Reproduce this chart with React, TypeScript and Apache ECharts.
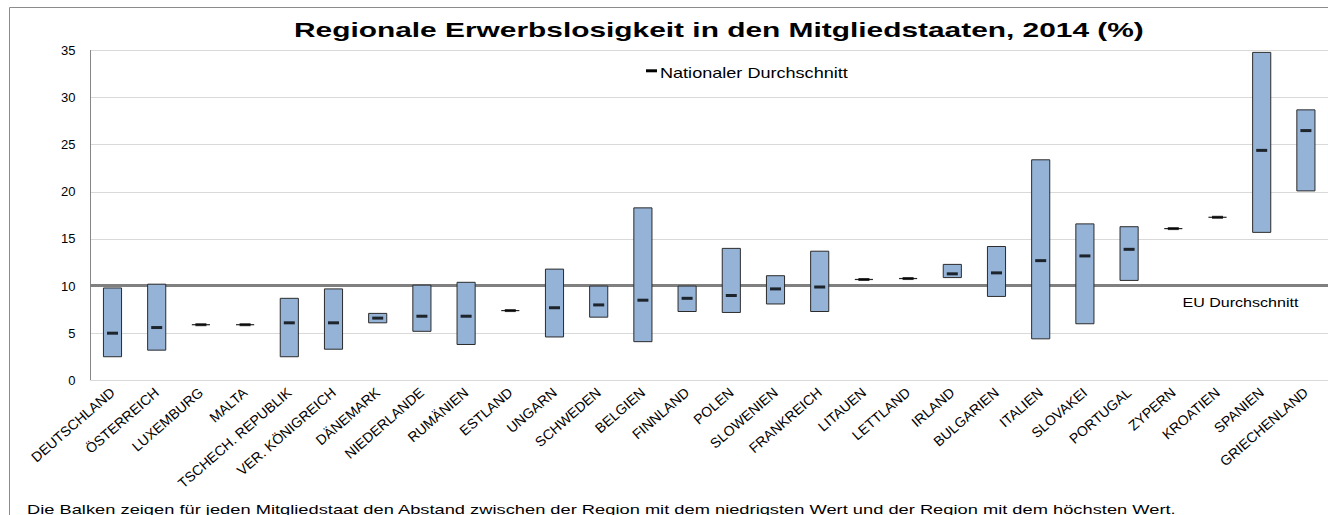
import React, { useEffect, useRef } from "react";
import * as echarts from "echarts";

const categories = [
  "DEUTSCHLAND", "ÖSTERREICH", "LUXEMBURG", "MALTA", "TSCHECH. REPUBLIK", "VER. KÖNIGREICH",
  "DÄNEMARK", "NIEDERLANDE", "RUMÄNIEN", "ESTLAND", "UNGARN", "SCHWEDEN", "BELGIEN", "FINNLAND",
  "POLEN", "SLOWENIEN", "FRANKREICH", "LITAUEN", "LETTLAND", "IRLAND", "BULGARIEN", "ITALIEN",
  "SLOVAKEI", "PORTUGAL", "ZYPERN", "KROATIEN", "SPANIEN", "GRIECHENLAND",
];

const regionMin = [
  2.5, 3.2, 5.9, 5.9, 2.5, 3.3, 6.1, 5.2, 3.8, 7.4, 4.6, 6.7, 4.1, 7.3,
  7.2, 8.1, 7.3, 10.7, 10.8, 10.9, 8.9, 4.4, 6.0, 10.6, 16.1, 17.3, 15.7, 20.1,
];

const regionMax = [
  9.8, 10.2, 5.9, 5.9, 8.7, 9.7, 7.1, 10.1, 10.4, 7.4, 11.8, 10.0, 18.3, 10.0,
  14.0, 11.1, 13.7, 10.7, 10.8, 12.3, 14.2, 23.4, 16.6, 16.3, 16.1, 17.3, 34.8, 28.7,
];

const nationalAvg = [
  5.0, 5.6, 5.9, 5.9, 6.1, 6.1, 6.6, 6.8, 6.8, 7.4, 7.7, 8.0, 8.5, 8.7,
  9.0, 9.7, 9.9, 10.7, 10.8, 11.3, 11.4, 12.7, 13.2, 13.9, 16.1, 17.3, 24.4, 26.5,
];

const euAverage = 10.1;

const yTicks = { min: 0, max: 35, interval: 5 };

const titleText = "Regionale Erwerbslosigkeit in den Mitgliedstaaten, 2014 (%)";
const legendText = "Nationaler Durchschnitt";
const euLabelText = "EU Durchschnitt";
const footnoteText =
  "Die Balken zeigen für jeden Mitgliedstaat den Abstand zwischen der Region mit dem niedrigsten Wert und der Region mit dem höchsten Wert.";

const FONT = '"Liberation Sans", Arial, Helvetica, sans-serif';

function measure(text: string, font: string): number {
  const c = document.createElement("canvas").getContext("2d");
  if (!c) return 1;
  c.font = font;
  return c.measureText(text).width || 1;
}

export default function App() {
  const ref = useRef<HTMLDivElement | null>(null);

  useEffect(() => {
    if (!ref.current) return;
    const chart = echarts.init(ref.current, null, { renderer: "svg" });

    const fit = (text: string, size: number, weight: string, target: number) =>
      target / measure(text, `${weight} ${size}px ${FONT}`);

    const rangeData = categories.map((_, i) => [i, regionMin[i], regionMax[i]]);

    const option: any = {
      animation: false,
      backgroundColor: "#ffffff",
      grid: { left: 90.4, right: -11, top: 50.5, bottom: 134.7, containLabel: false },
      xAxis: {
        type: "category",
        data: categories,
        boundaryGap: true,
        axisLine: { show: true, lineStyle: { color: "#d9d9d9", width: 1 } },
        axisTick: { show: false },
        axisLabel: {
          interval: 0,
          rotate: 41,
          margin: 10,
          fontSize: 14,
          fontFamily: FONT,
          color: "#000000",
        },
        splitLine: { show: false },
      },
      yAxis: {
        type: "value",
        min: yTicks.min,
        max: yTicks.max,
        interval: yTicks.interval,
        axisLine: { show: true, lineStyle: { color: "#868686", width: 1 } },
        axisTick: { show: false },
        axisLabel: { fontSize: 13, fontFamily: FONT, color: "#000000", margin: 15 },
        splitLine: { show: true, lineStyle: { color: "#d9d9d9", width: 1 } },
      },
      series: [
        {
          type: "line",
          name: "EU Durchschnitt",
          data: [],
          z: 1,
          silent: true,
          markLine: {
            silent: true,
            z: 1,
            symbol: ["none", "none"],
            label: { show: false },
            lineStyle: { color: "#808080", width: 3, type: "solid" },
            data: [{ yAxis: euAverage }],
          },
        },
        {
          type: "custom",
          name: "Spanne",
          z: 8,
          data: rangeData,
          encode: { x: 0, y: [1, 2] },
          renderItem: (params: any, api: any) => {
            const i = api.value(0);
            const lo = api.value(1);
            const hi = api.value(2);
            const pLo = api.coord([i, lo]);
            const pHi = api.coord([i, hi]);
            const w = api.size([1, 0])[0] * 0.41;
            const h = pLo[1] - pHi[1];
            if (h < 1) {
              return {
                type: "line",
                shape: { x1: pLo[0] - w / 2, y1: pLo[1], x2: pLo[0] + w / 2, y2: pLo[1] },
                style: { stroke: "#262626", lineWidth: 1.2 },
              };
            }
            return {
              type: "rect",
              shape: { x: pLo[0] - w / 2, y: pHi[1], width: w, height: h },
              style: { fill: "#95b3d7", stroke: "#2b2b2b", lineWidth: 1 },
            };
          },
        },
        {
          type: "scatter",
          name: legendText,
          z: 9,
          data: nationalAvg.map((v, i) => [i, v]),
          symbol: "rect",
          symbolSize: [11, 3],
          itemStyle: { color: "#000000" },
        },
      ],
      graphic: [
        {
          type: "rect",
          silent: true,
          z: -10,
          shape: { x: 9.5, y: 7.5, width: 1400, height: 600 },
          style: { fill: "none", stroke: "#8c8c8c", lineWidth: 1 },
        },
        {
          type: "text",
          x: 294,
          y: 30,
          scaleX: fit(titleText, 21, "bold", 850),
          style: {
            text: titleText,
            font: `bold 21px ${FONT}`,
            fill: "#000000",
            textAlign: "left",
            textVerticalAlign: "middle",
          },
        },
        {
          type: "rect",
          shape: { x: 646, y: 69.3, width: 11, height: 3 },
          style: { fill: "#000000" },
        },
        {
          type: "text",
          x: 660,
          y: 72.5,
          scaleX: fit(legendText, 14, "normal", 188),
          style: {
            text: legendText,
            font: `normal 14px ${FONT}`,
            fill: "#000000",
            textAlign: "left",
            textVerticalAlign: "middle",
          },
        },
        {
          type: "text",
          x: 1182.5,
          y: 302.5,
          scaleX: fit(euLabelText, 12, "normal", 116),
          style: {
            text: euLabelText,
            font: `normal 12px ${FONT}`,
            fill: "#000000",
            textAlign: "left",
            textVerticalAlign: "middle",
          },
        },
        {
          type: "text",
          x: 27,
          y: 509.5,
          scaleX: fit(footnoteText, 13, "normal", 1150),
          style: {
            text: footnoteText,
            font: `normal 13px ${FONT}`,
            fill: "#000000",
            textAlign: "left",
            textVerticalAlign: "middle",
          },
        },
      ],
    };

    chart.setOption(option);
    return () => chart.dispose();
  }, []);

  return (
    <div
      ref={ref}
      style={{ position: "fixed", left: 0, top: 0, width: 1328, height: 515, background: "#fff" }}
    />
  );
}
